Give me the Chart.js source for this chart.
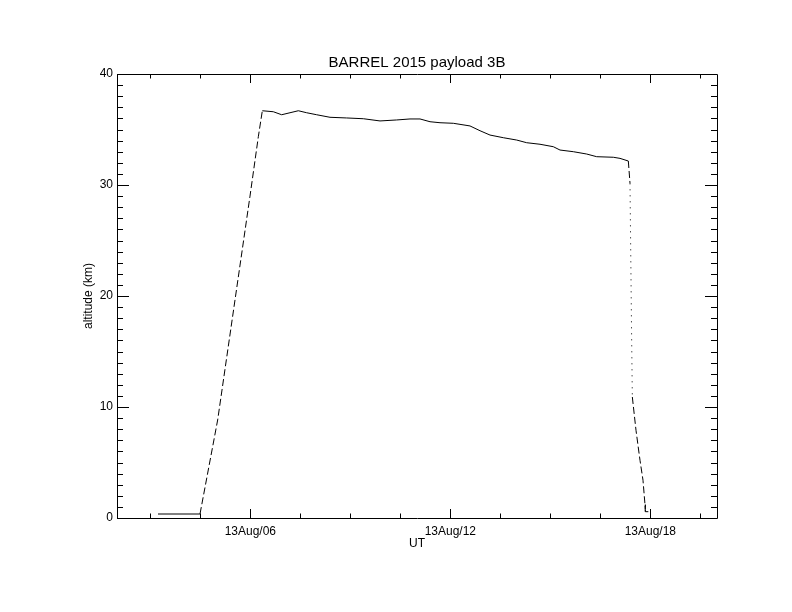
<!DOCTYPE html>
<html>
<head>
<meta charset="utf-8">
<title>BARREL 2015 payload 3B</title>
<script src="https://cdn.jsdelivr.net/npm/chart.js@4"></script>
<style>
  html, body { margin: 0; padding: 0; background: #fff; }
  #wrap { width: 792px; height: 612px; }
</style>
</head>
<body>
<div id="wrap"><canvas id="altChart" width="792" height="612"></canvas></div>
<script>
// ================================
// Data
// ================================
// time in hours UT on 13 Aug
const hours = [
  3.23, 4.49, 5.02, 5.99, 6.24, 6.36,
  6.69, 6.94, 7.19, 7.44, 7.69, 7.99, 8.39, 8.89, 9.39, 9.89, 10.39, 10.79,
  11.09, 11.39, 11.69, 12.09, 12.59, 12.89, 13.19, 13.59, 13.99, 14.29, 14.69,
  15.09, 15.29, 15.69, 16.09, 16.39, 16.89, 17.09, 17.34,
  17.39, 17.44, 17.46, 17.57, 17.69, 17.78, 17.84, 17.85, 17.94
];
// altitude in km
const altitudeKm = [
  0.36, 0.36, 8.83, 29.0, 34.35, 36.69,
  36.6, 36.33, 36.51, 36.69, 36.51, 36.33, 36.1, 36.04, 35.97, 35.77, 35.86, 35.95,
  35.95, 35.7, 35.61, 35.56, 35.32, 34.89, 34.5, 34.26, 34.05, 33.81, 33.67,
  33.45, 33.15, 33.0, 32.79, 32.55, 32.5, 32.4, 32.16,
  30.15, 16.0, 10.9, 7.9, 5.2, 3.4, 1.2, 0.57, 0.57
];

const xTickHours = [3, 4.5, 6, 7.5, 9, 10.5, 12, 13.5, 15, 16.5, 18, 19.5];
const xMajorHours = [6, 12, 18];
const yTickKm = [];
for (let k = 0; k <= 40; k++) yTickKm.push(k);
const yMajorKm = [0, 10, 20, 30, 40];

const points = hours.map((h, i) => ({ x: h, y: altitudeKm[i] }));

// segment style: fast parts of the track look dashed / dotted (sparse samples)
function segDash(ctx) {
  const a = ctx.p0.parsed, b = ctx.p1.parsed;
  const rate = Math.abs((b.y - a.y) / (b.x - a.x));
  if (rate > 100) return [1, 5];
  if (rate > 10) return [7, 3];
  return undefined;
}

// ================================
// Inward ticks + box, drawn from the scales
// ================================
const idlAxes = {
  id: "idlAxes",
  afterDraw(chart) {
    const { ctx, chartArea: a, scales } = chart;
    const xs = scales.x, ys = scales.y;
    ctx.save();
    ctx.strokeStyle = "#000";
    ctx.lineWidth = 1;
    ctx.beginPath();
    ctx.rect(Math.round(a.left) + 0.5, Math.round(a.top) + 0.5,
             Math.round(a.right - a.left), Math.round(a.bottom - a.top));
    ctx.stroke();

    ctx.beginPath();
    xTickHours.forEach((h) => {
      const px = Math.round(xs.getPixelForValue(h)) + 0.5;
      const len = xMajorHours.includes(h) ? 9 : 4.5;
      ctx.moveTo(px, a.bottom); ctx.lineTo(px, a.bottom - len);
      ctx.moveTo(px, a.top); ctx.lineTo(px, a.top + len);
    });
    yTickKm.forEach((k) => {
      const py = Math.round(ys.getPixelForValue(k)) + 0.5;
      const len = yMajorKm.includes(k) ? 12 : 6;
      ctx.moveTo(a.left, py); ctx.lineTo(a.left + len, py);
      ctx.moveTo(a.right, py); ctx.lineTo(a.right - len, py);
    });
    ctx.stroke();
    ctx.restore();
  }
};

const FONT = "'Liberation Sans', Arial, sans-serif";

new Chart(document.getElementById("altChart"), {
  type: "line",
  data: {
    datasets: [{
      data: points,
      borderColor: "#000",
      borderWidth: 1,
      pointRadius: 0,
      fill: false,
      tension: 0,
      segment: { borderDash: segDash }
    }]
  },
  options: {
    responsive: false,
    animation: false,
    layout: { padding: { left: 0, right: 75, top: 0, bottom: 0 } },
    plugins: {
      legend: { display: false },
      tooltip: { enabled: false },
      title: {
        display: true,
        fullSize: false,
        text: "BARREL 2015 payload 3B",
        color: "#000",
        font: { family: FONT, size: 15, weight: "normal" },
        padding: { top: 54, bottom: 2 }
      }
    },
    scales: {
      x: {
        type: "linear",
        min: 2,
        max: 20,
        grid: { display: false, drawTicks: false },
        border: { display: false },
        afterBuildTicks: (s) => { s.ticks = xTickHours.map((v) => ({ value: v })); },
        afterFit: (s) => { s.height = 94; },
        ticks: {
          autoSkip: false,
          maxRotation: 0,
          padding: 6,
          color: "#000",
          font: { family: FONT, size: 12 },
          callback: (v) => xMajorHours.includes(v) ? "13Aug/" + String(v).padStart(2, "0") : ""
        },
        title: {
          display: true,
          text: "UT",
          color: "#000",
          font: { family: FONT, size: 12 },
          padding: { top: 0, bottom: 61 }
        }
      },
      y: {
        type: "linear",
        min: 0,
        max: 40,
        grid: { display: false, drawTicks: false },
        border: { display: false },
        afterBuildTicks: (s) => { s.ticks = yTickKm.map((v) => ({ value: v })); },
        afterFit: (s) => { s.width = 117; },
        ticks: {
          autoSkip: false,
          padding: 4,
          color: "#000",
          font: { family: FONT, size: 12 },
          callback: (v) => yMajorKm.includes(v) ? String(v) : ""
        },
        title: {
          display: true,
          text: "altitude (km)",
          color: "#000",
          font: { family: FONT, size: 12 },
          padding: { top: 81, bottom: 0 }
        }
      }
    }
  },
  plugins: [idlAxes]
});
</script>
</body>
</html>
